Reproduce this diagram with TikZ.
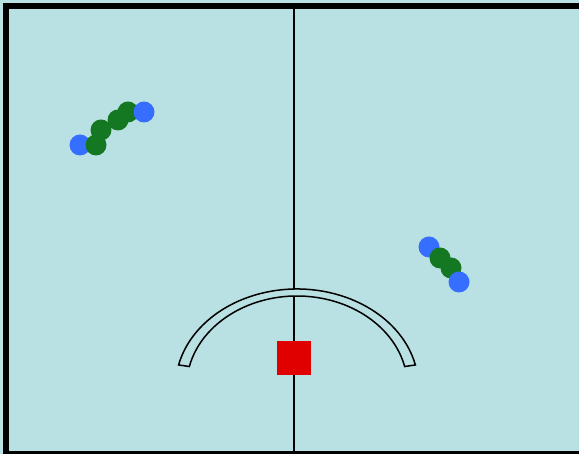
\documentclass[tikz,border=0pt]{standalone}
\begin{document}
\begin{tikzpicture}[x=1pt,y=1pt,line width=1.4pt]
  \definecolor{pitch}{RGB}{185,224,226}
  \definecolor{blueplayer}{RGB}{54,110,255}
  \definecolor{greenplayer}{RGB}{20,120,34}
  \definecolor{goalred}{RGB}{224,0,0}
  \useasboundingbox (0,0) rectangle (579,454);
  % playing surface
  \fill[pitch] (0,0) rectangle (579,454);
  % centre line
  \draw (294,0) -- (294,448);
  % crease: two elliptic arcs closed at the ends
  \draw[line width=1.5pt,fill=pitch] ([shift={(13:121.5 and 98)}]297,67)
    arc[start angle=13,end angle=167,x radius=121.5,y radius=98]
    -- ([shift={(167:110.5 and 91)}]297,67)
    arc[start angle=167,end angle=13,x radius=110.5,y radius=91] -- cycle;
  % goal
  \fill[goalred] (277,79) rectangle (311,113);
  % players, upper left
  \fill[blueplayer] (80,309) circle (10.5);
  \foreach \p in {(96,309),(101,324),(118,334),(128,342)}
    \fill[greenplayer] \p circle (10.5);
  \fill[blueplayer] (144,342) circle (10.5);
  % players, right
  \fill[blueplayer] (429,207) circle (10.5);
  \fill[greenplayer] (440,196) circle (10.5);
  \fill[greenplayer] (451,186) circle (10.5);
  \fill[blueplayer] (459,172) circle (10.5);
  % boards
  \begin{scope}
    \clip (0,0) rectangle (579,454);
    \draw[line width=6pt] (6,0) rectangle (585,448);
  \end{scope}
\end{tikzpicture}
\end{document}
